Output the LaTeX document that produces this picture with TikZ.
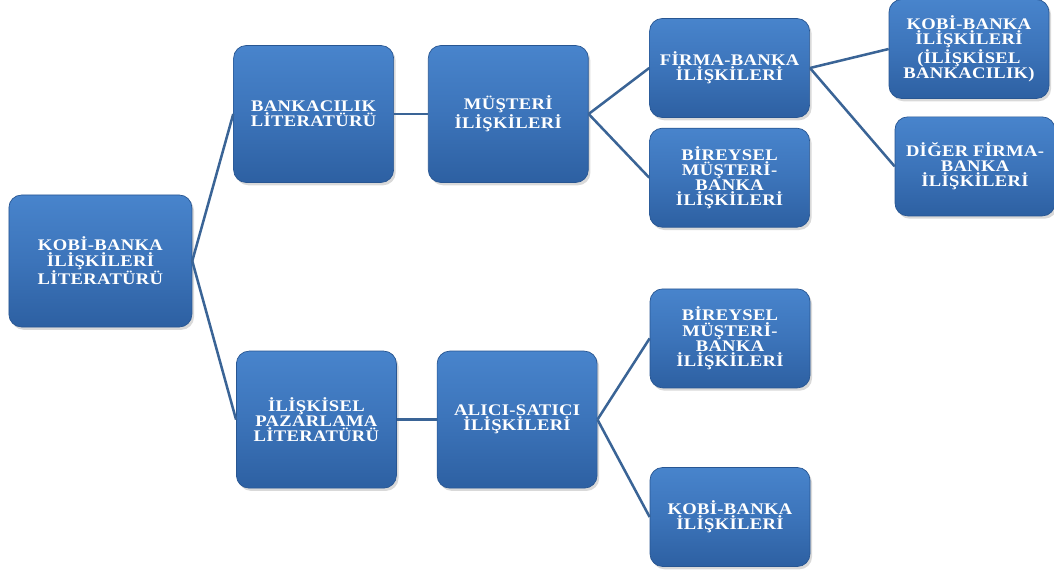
\documentclass[tikz,border=0pt]{standalone}
\usepackage{fontspec}
\setmainfont{Liberation Serif}[FakeStretch=1.15,LetterSpace=2]
\usetikzlibrary{positioning,shadows}
\definecolor{boxtop}{RGB}{72,132,204}
\definecolor{boxmid}{RGB}{60,116,186}
\definecolor{boxbot}{RGB}{45,96,162}
\definecolor{linkblue}{RGB}{58,100,150}

\begin{document}
\begin{tikzpicture}[
    node distance=0.25cm and 0.85cm,
    box/.style={rectangle, rounded corners=9pt, top color=boxtop, bottom color=boxbot, middle color=boxmid, draw=boxbot!90!black, line width=0.5pt, text=white, align=center, minimum width=4.0cm, minimum height=2.475cm, inner sep=2pt, font=\fontsize{11.5}{10.8}\selectfont\bfseries, drop shadow={shadow xshift=1.5pt, shadow yshift=-2pt, opacity=0.3}},
    tall/.style={box, minimum height=3.425cm},
    link/.style={draw=linkblue, line width=1.8pt},
]
\useasboundingbox (0,0) rectangle (26.35,-14.35);
% Root
\node[box, minimum width=4.575cm, minimum height=3.3cm] (root) at (2.51,-6.525) {KOBİ-BANKA\\İLİŞKİLERİ\\LİTERATÜRÜ};
% Banking branch
\node[tall] (banking) at (7.84,-2.85) {BANKACILIK\\LİTERATÜRÜ};
\node[tall, right=of banking] (customer) {MÜŞTERİ\\İLİŞKİLERİ};
\node[box] (firm) at (18.24,-1.7) {FİRMA-BANKA\\İLİŞKİLERİ};
\node[box, below=of firm] (retail) {BİREYSEL\\MÜŞTERİ-\\BANKA\\İLİŞKİLERİ};
\node[box] (smerel) at (24.225,-1.225) {KOBİ-BANKA\\İLİŞKİLERİ\\(İLİŞKİSEL\\BANKACILIK)};
\node[box] (otherfirm) at (24.375,-4.16) {DİĞER FİRMA-\\BANKA\\İLİŞKİLERİ};
% Marketing branch
\node[tall] (marketing) at (7.91,-10.49) {İLİŞKİSEL\\PAZARLAMA\\LİTERATÜRÜ};
\node[tall, right=1.0cm of marketing] (buyer) {ALICI-SATICI\\İLİŞKİLERİ};
\node[box] (retailtwo) at (18.25,-8.46) {BİREYSEL\\MÜŞTERİ-\\BANKA\\İLİŞKİLERİ};
\node[box] (sme) at (18.25,-12.925) {KOBİ-BANKA\\İLİŞKİLERİ};

% Links
\draw[link] (root.east) -- (banking.west);
\draw[link] (root.east) -- (marketing.west);
\draw[link] (banking.east) -- (customer.west);
\draw[link] (customer.east) -- (firm.west);
\draw[link] (customer.east) -- (retail.west);
\draw[link] (firm.east) -- (smerel.west);
\draw[link] (firm.east) -- (otherfirm.west);
\draw[link] (marketing.east) -- (buyer.west);
\draw[link] (buyer.east) -- (retailtwo.west);
\draw[link] (buyer.east) -- (sme.west);
\end{tikzpicture}
\end{document}
